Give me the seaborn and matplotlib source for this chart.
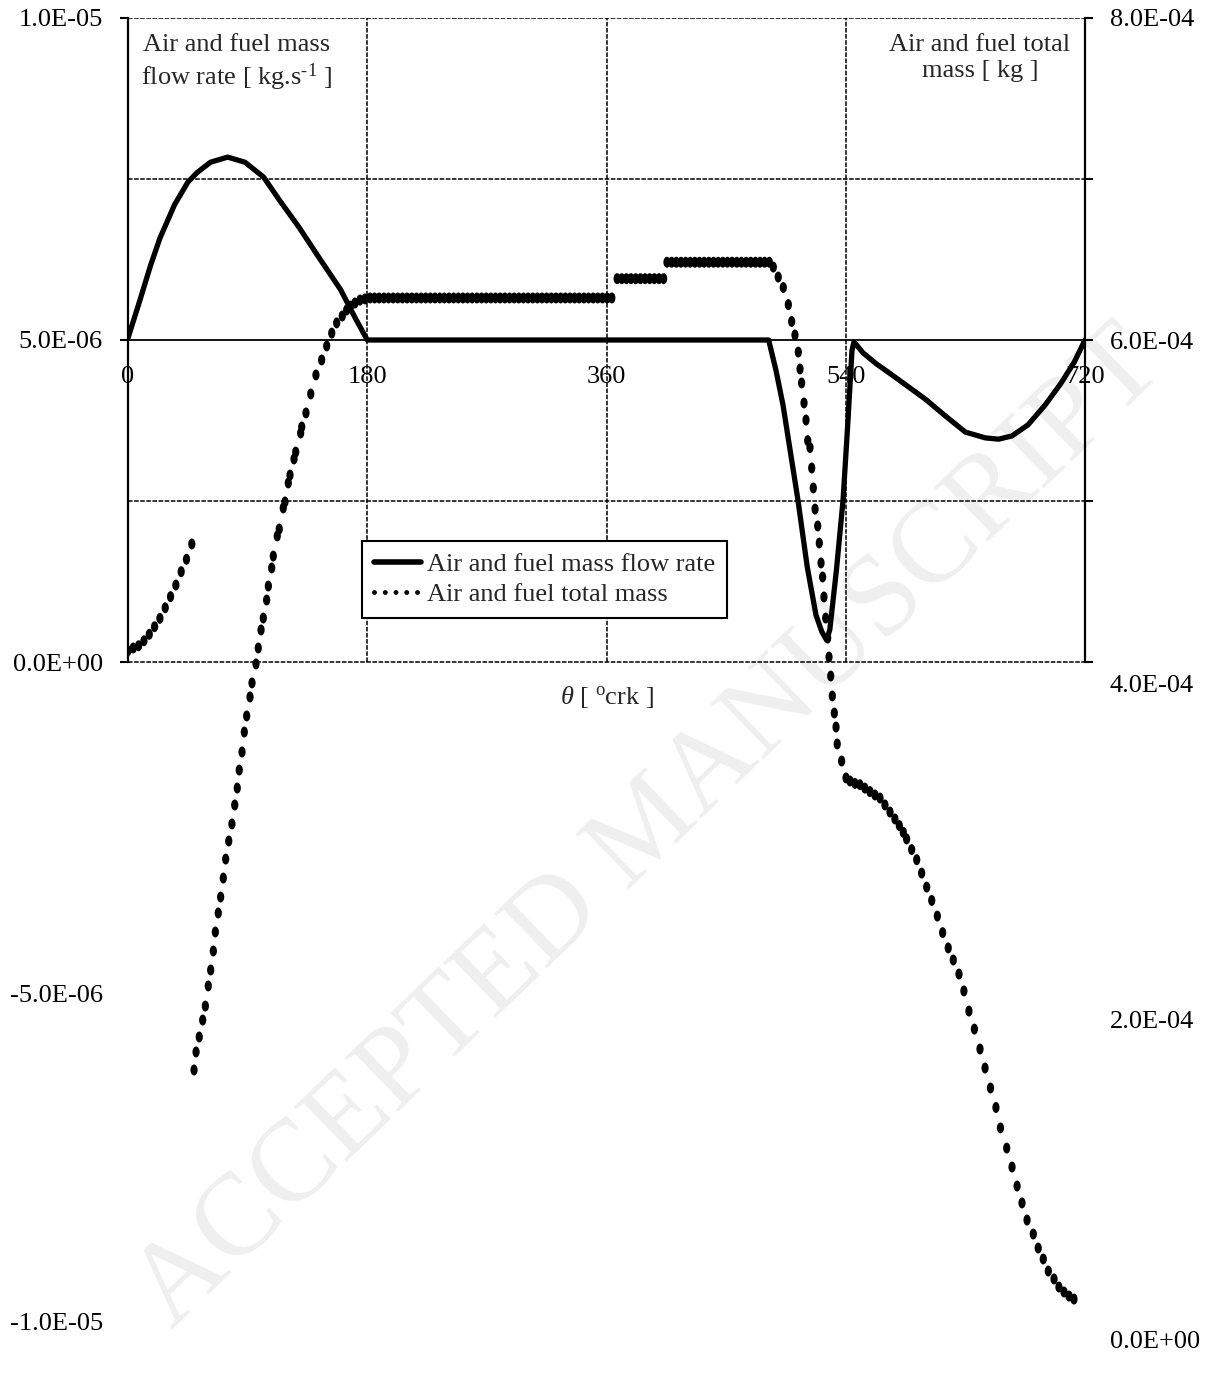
import numpy as np
import pandas as pd
import seaborn as sns
import matplotlib.pyplot as plt
from matplotlib.lines import Line2D
from matplotlib.path import Path
from matplotlib.transforms import Affine2D, ScaledTranslation
from matplotlib.ticker import FuncFormatter

# ---- data ----
# air and fuel mass flow rate [1e-6 kg/s] vs crank angle [deg]
flow_theta = [0, 9, 17, 24, 35, 45, 52, 62, 75, 88, 102, 114, 129, 144, 160, 171, 180,
              482, 487.5, 492.8, 504, 511, 517.6, 522, 525.6, 528, 533, 538, 541.7, 544.7, 546.2,
              553, 563, 574, 586, 600, 615, 630, 645, 655, 665, 677, 690, 702, 712, 720]
flow_rate = [5.03, 5.62, 6.16, 6.58, 7.10, 7.45, 7.60, 7.76, 7.84, 7.76, 7.53, 7.17, 6.74, 6.27, 5.78, 5.34, 5.0,
             5.0, 4.53, 3.99, 2.52, 1.48, 0.73, 0.47, 0.34, 0.50, 1.43, 2.52, 3.76, 4.84, 4.97,
             4.80, 4.63, 4.47, 4.29, 4.08, 3.82, 3.57, 3.48, 3.46, 3.51, 3.68, 3.99, 4.33, 4.66, 5.0]

# air and fuel total mass [1e-4 kg], first branch
mass_theta_a = [0, 4, 8, 12, 16, 20, 24, 28, 32, 36, 40, 44, 48]
mass_a = [4.070, 4.087, 4.101, 4.132, 4.172, 4.219, 4.271, 4.337, 4.406, 4.478, 4.561, 4.638, 4.733]

# rising branch
mass_theta_b = [49.7, 51.2, 53.6, 56.2, 58.2, 60.4, 62.2, 64.2, 65.7, 67.9,
                69.7, 71.7, 73.5, 75.8, 78.2, 80.3, 82.2, 83.7, 85.8, 87.5,
                89.3, 91.8, 93.3, 96.3, 98.0, 100.1, 101.8, 104.3, 105.6, 108.1,
                109.3, 112.3, 113.8, 116.8, 118.1, 120.6, 121.9, 124.9, 126.2, 129.9,
                130.7, 133.9, 137.5, 141.4, 145.7, 149.5, 153.3, 157.0, 161.2, 164.5,
                167.5, 170.8, 174.5, 178.3, 182.1]
mass_b = [1.466, 1.578, 1.671, 1.776, 1.863, 1.988, 2.087, 2.205, 2.323, 2.441,
          2.540, 2.658, 2.776, 2.888, 2.994, 3.112, 3.217, 3.329, 3.441, 3.565,
          3.665, 3.783, 3.870, 3.988, 4.087, 4.199, 4.273, 4.385, 4.472, 4.584,
          4.658, 4.783, 4.826, 4.957, 4.994, 5.112, 5.161, 5.261, 5.304, 5.422,
          5.460, 5.547, 5.665, 5.783, 5.876, 5.963, 6.043, 6.106, 6.149, 6.186,
          6.211, 6.230, 6.248, 6.255, 6.261]

# three flat steps
step_theta_1 = [185.5, 189, 192.5, 196, 199.5, 203, 206.5, 210, 213.5, 217, 220.5, 224, 227.5,
                231, 234.5, 238, 241.5, 245, 248.5, 252, 255.5, 259, 262.5, 266, 269.5, 273,
                276.5, 280, 283.5, 287, 290.5, 294, 297.5, 301, 304.5, 308, 311.5, 315, 318.5,
                322, 325.5, 329, 332.5, 336, 339.5, 343, 346.5, 350, 353.5, 357, 360.5, 364]
step_theta_2 = [368, 371.5, 375, 378.5, 382, 385.5, 389, 392.5, 396, 399.5, 403]
step_theta_3 = [405.5, 409, 412.5, 416, 419.5, 423, 426.5, 430, 433.5, 437, 440.5, 444,
                447.5, 451, 454.5, 458, 461.5, 465, 468.5, 472, 475.5, 479, 482.5]
step_levels = [6.261, 6.381, 6.483]

# falling branch
mass_theta_d = [485.5, 489.2, 493.0, 496.8, 499.3, 501.8, 504.3, 505.6, 506.8, 508.6,
                510.1, 511.4, 513.1, 514.4, 515.6, 516.9, 518.9, 520.1, 521.4, 522.6,
                523.6, 524.9, 526.4, 527.4, 528.7, 529.9, 531.4, 532.7, 533.6, 536.9,
                540.2, 543.2, 546.9, 550.7, 554.4, 558.2, 562.0, 565.8, 569.5, 573.3,
                577.0, 580.3, 583.3, 585.8, 589.6, 593.4, 597.1, 600.9, 604.7, 608.9,
                612.9, 617.1, 620.9, 625.2, 628.9, 632.7, 636.8, 641.0, 644.8, 648.9,
                653.0, 656.4, 661.1, 665.1, 668.9, 672.6, 676.4, 681.1, 684.8, 688.6,
                692.4, 696.7, 700.4, 704.2, 708.0, 711.7]
mass_d = [6.453, 6.391, 6.326, 6.220, 6.115, 6.031, 5.925, 5.820, 5.733, 5.609,
          5.503, 5.375, 5.332, 5.205, 5.081, 4.950, 4.845, 4.739, 4.615, 4.528,
          4.404, 4.273, 4.149, 4.031, 3.913, 3.789, 3.683, 3.596, 3.491, 3.385,
          3.280, 3.261, 3.246, 3.238, 3.217, 3.195, 3.174, 3.155, 3.112, 3.068,
          3.025, 2.984, 2.942, 2.901, 2.835, 2.772, 2.689, 2.602, 2.519, 2.422,
          2.319, 2.224, 2.149, 2.062, 1.957, 1.832, 1.720, 1.596, 1.478, 1.354,
          1.233, 1.106, 0.981, 0.863, 0.745, 0.640, 0.534, 0.447, 0.360, 0.292,
          0.217, 0.168, 0.118, 0.087, 0.062, 0.043]

x_ticks = [0, 180, 360, 540, 720]
left_ticks = [-1e-5, -5e-6, 0, 5e-6, 1e-5]
right_ticks = [0, 2e-4, 4e-4, 6e-4, 8e-4]

# ---- frames ----
df_flow = pd.DataFrame({'theta': flow_theta, 'rate': np.array(flow_rate) * 1e-6})

steps = [pd.DataFrame({'theta': th, 'mass': lvl})
         for th, lvl in zip([step_theta_1, step_theta_2, step_theta_3], step_levels)]
df_mass = pd.concat([pd.DataFrame({'theta': mass_theta_a, 'mass': mass_a}),
                     pd.DataFrame({'theta': mass_theta_b, 'mass': mass_b}),
                     *steps,
                     pd.DataFrame({'theta': mass_theta_d, 'mass': mass_d})],
                    ignore_index=True)
df_mass['mass'] = df_mass['mass'] * 1e-4

# ---- style ----
sns.set_style("white")
plt.rcParams['font.family'] = ['Liberation Serif', 'DejaVu Serif']
plt.rcParams['mathtext.fontset'] = 'custom'
plt.rcParams['mathtext.rm'] = 'Liberation Serif'
plt.rcParams['mathtext.it'] = 'Liberation Serif:italic'
FS = 19

W, H = 1208, 1378
fig = plt.figure(figsize=(W / 100, H / 100), dpi=100)
fig.patch.set_facecolor('white')

# faint watermark behind everything
fig.text(650 / W, 1 - 830 / H, "ACCEPTED MANUSCRIPT", rotation=44, fontsize=84,
         color='#efefef', ha='center', va='center', zorder=-5)

ax = fig.add_axes([128 / W, 1 - 1306 / H, 957 / W, 1288 / H])
ax.set_facecolor('none')
ax2 = ax.twinx()

# grid only in the upper half
ax.hlines([0, 2.5e-6, 7.5e-6, 1e-5], 0, 720, colors='k', lw=1.1,
          linestyles=(0, (3, 1)), zorder=1)
ax.vlines([180, 360, 540], 0, 1e-5, colors='k', lw=1.1,
          linestyles=(0, (3, 1)), zorder=1)

sns.lineplot(data=df_flow, x='theta', y='rate', ax=ax, color='black', lw=3.8,
             sort=False, estimator=None, legend=False, zorder=3)

dot = Path.unit_circle().transformed(Affine2D().scale(0.66, 1.0))
sns.scatterplot(data=df_mass, x='theta', y='mass', ax=ax2, marker=dot, s=62,
                color='black', edgecolor='none', linewidth=0, legend=False, zorder=3)

ax.set_xlim(0, 720)
ax.set_ylim(-1e-5, 1e-5)
ax2.set_ylim(0, 8e-4)

# spines
ax.spines['top'].set_visible(False)
ax.spines['right'].set_visible(False)
ax.spines['left'].set_bounds(0, 1e-5)
ax.spines['left'].set_linewidth(1.6)
ax.spines['left'].set_color('black')
ax.spines['bottom'].set_position(('data', 5e-6))
ax.spines['bottom'].set_linewidth(1.3)
ax.spines['bottom'].set_color('black')
for s in ['top', 'left', 'bottom']:
    ax2.spines[s].set_visible(False)
ax2.spines['right'].set_bounds(4e-4, 8e-4)
ax2.spines['right'].set_linewidth(1.6)
ax2.spines['right'].set_color('black')

# ticks
sci = FuncFormatter(lambda v, p: f"{v:.1E}")
ax.set_xticks(x_ticks)
ax.set_xticklabels([str(t) for t in x_ticks])
ax.tick_params(axis='x', length=0, pad=19, labelsize=FS, colors='black')
ax.set_yticks(left_ticks)
ax.yaxis.set_major_formatter(sci)
ax.tick_params(axis='y', direction='out', length=6, width=1.5, pad=12,
               labelsize=FS, colors='black', left=True)

ax2.set_yticks(right_ticks)
ax2.set_yticks([5e-4, 7e-4], minor=True)
ax2.yaxis.set_major_formatter(sci)
ax2.tick_params(axis='y', which='both', direction='out', length=6, width=1.5, pad=12,
                labelsize=FS, colors='black', right=True)

# the lower labels sit a little lower in the reference; ticks only where the axis line is
left_shift = {-1e-5: 16, -5e-6: 9}
right_shift = {0: 34, 2e-4: 36, 4e-4: 21}
for t, loc in zip(ax.yaxis.get_major_ticks(), left_ticks):
    if loc < 0:
        t.tick1line.set_visible(False)
    if loc in left_shift:
        lab = t.label1
        lab.set_transform(lab.get_transform() +
                          ScaledTranslation(0, -left_shift[loc] / 100, fig.dpi_scale_trans))
for t, loc in zip(ax2.yaxis.get_major_ticks(), right_ticks):
    if loc < 3e-4:
        t.tick2line.set_visible(False)
    if loc in right_shift:
        lab = t.label2
        lab.set_transform(lab.get_transform() +
                          ScaledTranslation(0, -right_shift[loc] / 100, fig.dpi_scale_trans))

ax.set_xlabel('')
ax.set_ylabel('')
ax2.set_ylabel('')
ax.text(360, -0.55e-6, r"$\theta$ [ $^{\rm o}$crk ]", ha='center', va='center', fontsize=FS)

# axis titles inside the plot
fig.text(237 / W, 1 - 34 / H, "Air and fuel mass\nflow rate [ kg.s$^{\\text{-1}}$ ]",
         ha='center', va='top', fontsize=FS, multialignment='center', linespacing=1.25)
fig.text(980 / W, 1 - 34 / H, "Air and fuel total\nmass [ kg ]",
         ha='center', va='top', fontsize=FS, multialignment='center', linespacing=1.25)

# legend
handles = [Line2D([], [], color='black', lw=4),
           Line2D([], [], color='black', lw=3.5, linestyle=(0, (0.01, 2.2)),
                  dash_capstyle='round')]
leg = ax2.legend(handles, ['Air and fuel mass flow rate', 'Air and fuel total mass'],
                 loc='upper left', bbox_to_anchor=(362 / W, 1 - 541 / H),
                 bbox_transform=fig.transFigure, fontsize=FS, frameon=True,
                 fancybox=False, framealpha=1, edgecolor='black', borderaxespad=0,
                 handlelength=1.8, handletextpad=0.2, borderpad=0.45, labelspacing=0.25)
leg.get_frame().set_linewidth(1.5)

fig.savefig('out.png', dpi=100, facecolor='white')
